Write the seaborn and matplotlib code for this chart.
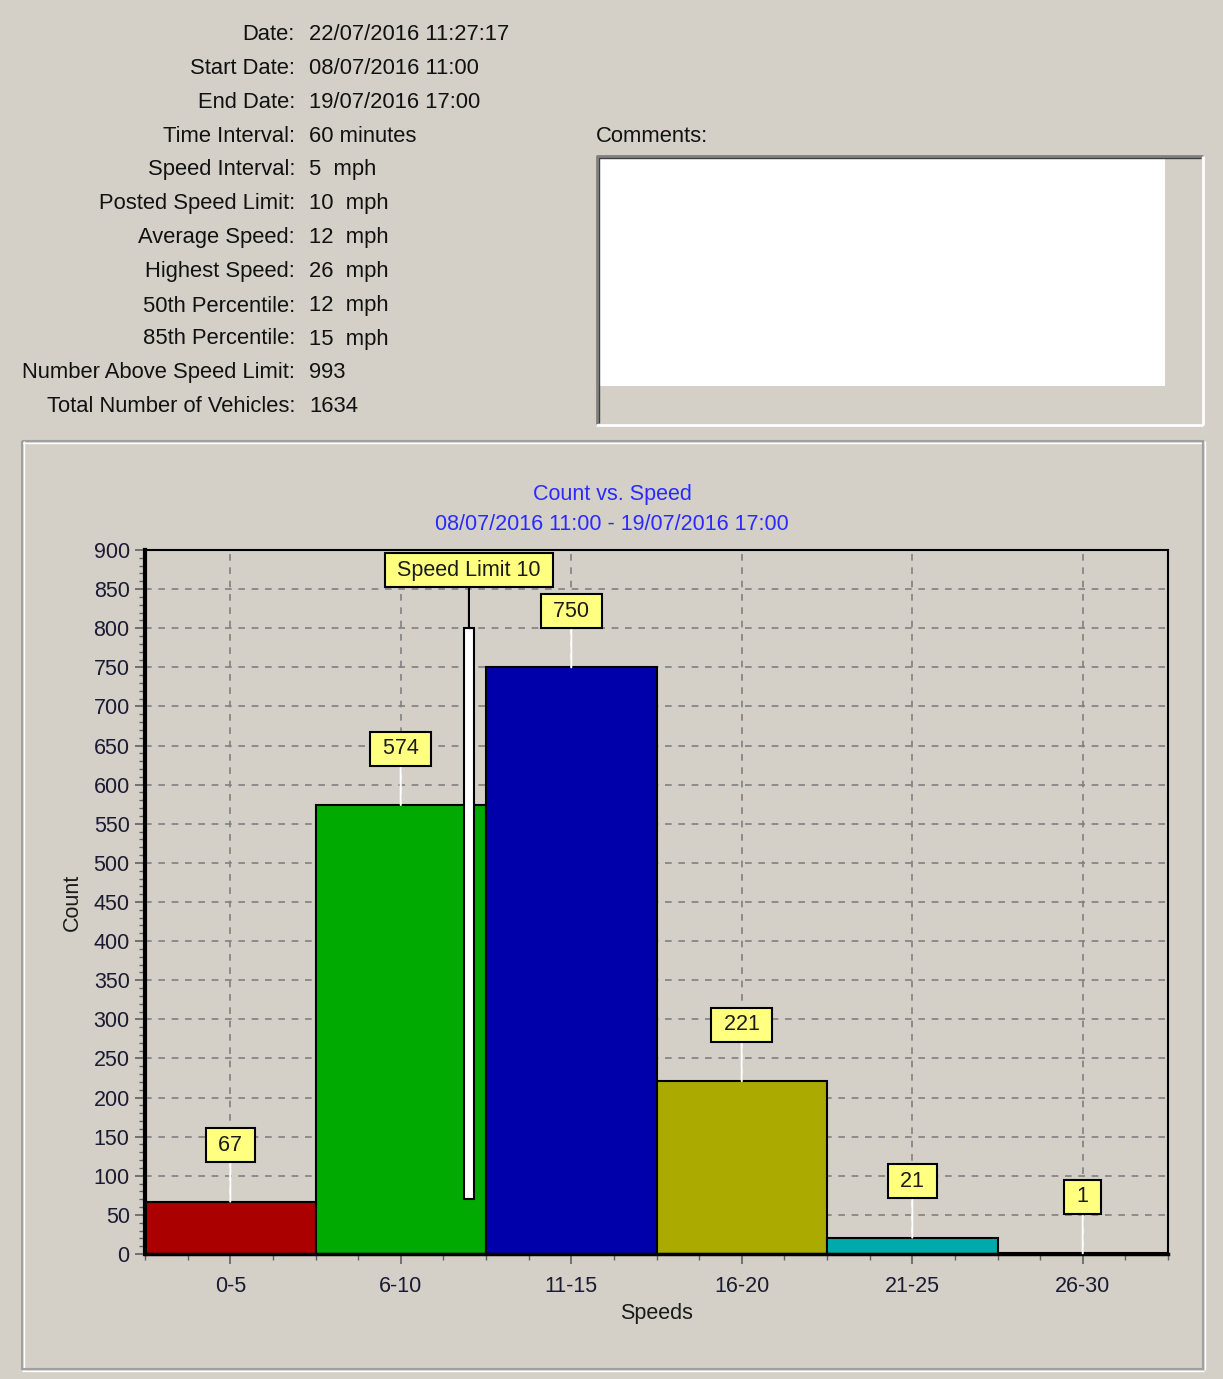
import matplotlib
matplotlib.use('Agg')
import matplotlib.pyplot as plt
import seaborn as sns
import numpy as np
import pandas as pd
from matplotlib.patches import Rectangle
from matplotlib.lines import Line2D

# ---------------- data ----------------
categories = ['0-5', '6-10', '11-15', '16-20', '21-25', '26-30']
counts = [67, 574, 750, 221, 21, 1]
bar_colors = ['#aa0000', '#00aa00', '#0000aa', '#aaaa00', '#00aaaa', '#aa00aa']
speed_limit = 10
limit_marker_low = 70
limit_marker_high = 800
y_ticks = list(range(0, 901, 50))

info_labels = ['Date:', 'Start Date:', 'End Date:', 'Time Interval:', 'Speed Interval:',
               'Posted Speed Limit:', 'Average Speed:', 'Highest Speed:', '50th Percentile:',
               '85th Percentile:', 'Number Above Speed Limit:', 'Total Number of Vehicles:']
info_values = ['22/07/2016 11:27:17', '08/07/2016 11:00', '19/07/2016 17:00', '60 minutes',
               '5  mph', '10  mph', '12  mph', '26  mph', '12  mph', '15  mph', '993', '1634']
title_lines = ['Count vs. Speed', '08/07/2016 11:00 - 19/07/2016 17:00']

# ---------------- style ----------------
sns.set_theme(style='white')
plt.rcParams['font.family'] = ['Liberation Sans', 'DejaVu Sans']
BG = '#d4d0c8'
W, H = 1223, 1379

fig = plt.figure(figsize=(W / 100, H / 100), dpi=100, facecolor=BG)


def fx(px):
    return px / W


def fy(py):
    return 1 - py / H


def fline(x0, y0, x1, y1, color, lw):
    fig.add_artist(Line2D([fx(x0), fx(x1)], [fy(y0), fy(y1)], color=color, lw=lw,
                          transform=fig.transFigure, solid_capstyle='butt'))


HEAD_FS = 15.8

# ---------------- header info ----------------
rows_y = [35, 69, 102, 136, 170, 204, 238, 272, 306, 339, 373, 406]
for lab, val, y in zip(info_labels, info_values, rows_y):
    fig.text(fx(295), fy(y), lab, ha='right', va='center', fontsize=HEAD_FS,
             color='#111111')
    fig.text(fx(309), fy(y), val, ha='left', va='center', fontsize=HEAD_FS,
             color='#111111')

# comments box
fig.text(fx(596), fy(136), 'Comments:', ha='left', va='center', fontsize=HEAD_FS,
         color='#111111')
fig.add_artist(Rectangle((fx(598), fy(386)), fx(1165 - 598), (386 - 158) / H,
                         facecolor='white', edgecolor='none', transform=fig.transFigure))
fline(596, 156, 1203, 156, '#808080', 2.0)
fline(598, 158, 1201, 158, '#404040', 1.0)
fline(596.5, 156, 596.5, 425, '#808080', 2.0)
fline(598.5, 158, 598.5, 423, '#404040', 1.0)
fline(596, 425, 1203, 425, 'white', 2.0)
fline(1202.5, 156, 1202.5, 425, 'white', 2.0)

# chart panel frame
fline(22, 441, 1204, 441, '#a0a0a0', 1.5)
fline(22, 442.5, 1204, 442.5, 'white', 1.0)
fline(22, 441, 22, 1370, '#a0a0a0', 1.5)
fline(23.5, 441, 23.5, 1370, 'white', 1.0)
fline(22, 1369, 1204, 1369, '#a0a0a0', 1.5)
fline(22, 1370.5, 1204, 1370.5, 'white', 1.0)
fline(1203, 441, 1203, 1370, '#a0a0a0', 1.5)
fline(1204.5, 441, 1204.5, 1370, 'white', 1.0)

# titles
fig.text(fx(612), fy(495), title_lines[0], ha='center', va='center', fontsize=15.5, color='#2a2aff')
fig.text(fx(612), fy(524), title_lines[1], ha='center', va='center', fontsize=15.5, color='#2a2aff')

# ---------------- chart ----------------
ax = fig.add_axes([fx(145), fy(1254), fx(1168 - 145), (1254 - 550) / H])
ax.set_facecolor(BG)

df = pd.DataFrame({'Speeds': categories, 'Count': counts})
sns.barplot(data=df, x='Speeds', y='Count', hue='Speeds', palette=bar_colors,
            width=1.0, edgecolor='black', linewidth=1.5, saturation=1.0,
            legend=False, ax=ax, zorder=2)

ax.set_xlim(-0.5, 5.5)
ax.set_ylim(0, 900)
ax.set_yticks(y_ticks)
ax.set_yticks(np.arange(0, 901, 10), minor=True)
ax.set_xticks(range(len(categories)))
ax.set_xticklabels(categories)
minor_x = [v for v in np.arange(-0.5, 5.51, 0.25) if abs(v - round(v)) > 1e-6]
ax.set_xticks(minor_x, minor=True)

ax.grid(True, which='major', linestyle=(0, (4, 4)), color='#808080', lw=1.2)
ax.set_axisbelow(True)

ax.tick_params(axis='both', which='major', direction='out', length=7, width=1.2,
               color='#606060', labelsize=15.5, labelcolor='#1a1a33', pad=4,
               bottom=True, left=True)
ax.tick_params(axis='x', which='major', pad=9)
ax.tick_params(axis='both', which='minor', direction='out', length=4, width=1.0,
               color='#606060', bottom=True, left=True)

for side, lw in [('left', 3.0), ('bottom', 2.5), ('top', 1.5), ('right', 1.5)]:
    ax.spines[side].set_color('black')
    ax.spines[side].set_linewidth(lw)
    ax.spines[side].set_visible(True)

ax.set_xlabel('Speeds', fontsize=15.5, color='#1a1a1a')
ax.set_ylabel('Count', fontsize=15.5, color='#1a1a1a')
ax.xaxis.set_label_coords(0.5, -(1303 - 1254) / 704)
ax.yaxis.set_label_coords((83 - 145) / 1023, 0.5)

# value labels
box = dict(boxstyle='square,pad=0.3', fc='#ffff80', ec='black', lw=1.5)
for i, v in enumerate(counts):
    ax.annotate(f' {v} ', xy=(i, v), xytext=(i, v + 72), ha='center', va='center',
                fontsize=15.5, color='#1a1a1a', bbox=box, zorder=5,
                arrowprops=dict(arrowstyle='-', color='white', lw=1.5,
                                shrinkA=0, shrinkB=0))

# speed limit marker
x_limit = (speed_limit - 3) / 5
ax.bar([x_limit], [limit_marker_high - limit_marker_low], bottom=limit_marker_low,
       width=0.06, color='white', edgecolor='black', linewidth=1.5, zorder=4)
ax.annotate(f' Speed Limit {speed_limit} ', xy=(x_limit, limit_marker_high),
            xytext=(x_limit, 874), ha='center', va='center', fontsize=15.5,
            color='#1a1a1a', bbox=box, zorder=5, annotation_clip=False,
            arrowprops=dict(arrowstyle='-', color='black', lw=1.5, shrinkA=0, shrinkB=0))

fig.savefig('out.png', dpi=100, facecolor=BG)
